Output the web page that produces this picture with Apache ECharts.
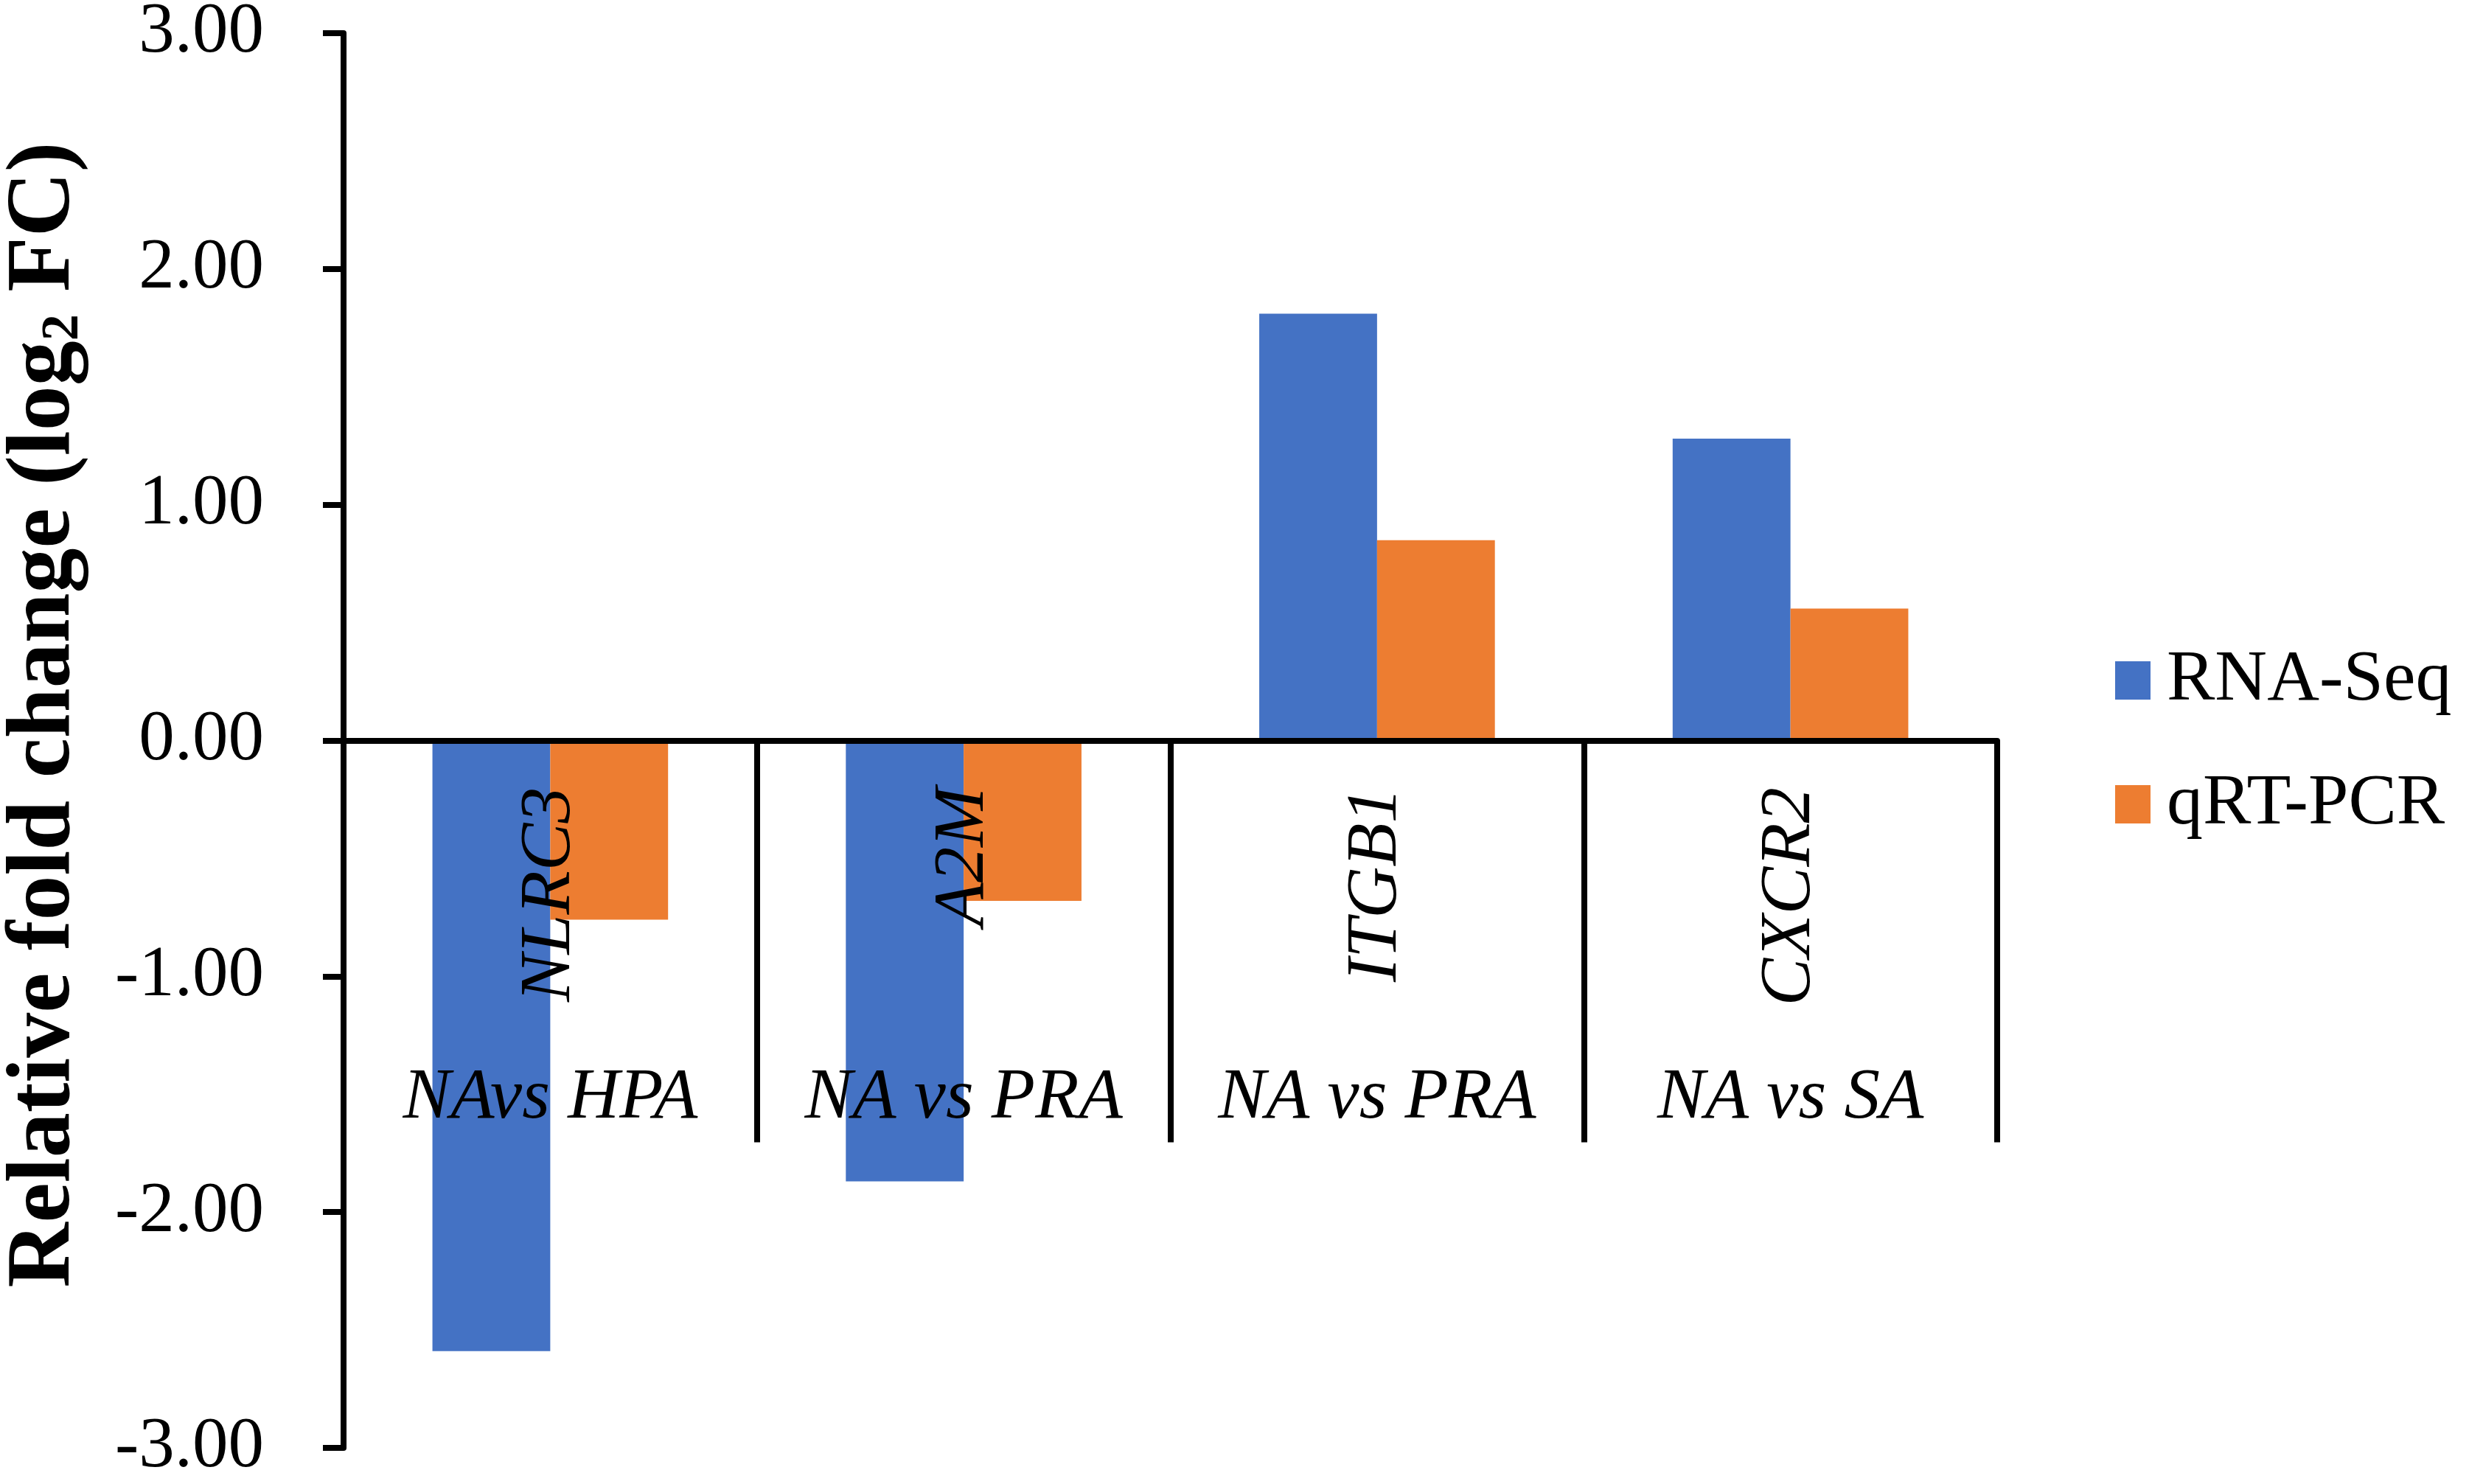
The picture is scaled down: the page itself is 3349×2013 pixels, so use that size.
<!DOCTYPE html>
<html>
<head>
<meta charset="utf-8">
<script src="https://cdn.jsdelivr.net/npm/echarts@6/dist/echarts.min.js"></script>
<style>
html,body{margin:0;padding:0;background:#fff;}
#c{width:3349px;height:2013px;}
</style>
</head>
<body>
<div id="c"></div>
<script>
const genes = ['NLRC3', 'A2M', 'ITGB1', 'CXCR2'];
const comparisons = ['NAvs HPA', 'NA vs PRA', 'NA vs PRA', 'NA vs SA'];
const rnaSeq = [-2.59, -1.87, 1.81, 1.28];
const qrtPcr = [-0.76, -0.68, 0.85, 0.56];
const seriesNames = ['RNA-Seq', 'qRT-PCR'];
const yTicks = { min: -3, max: 3, interval: 1 };

const FONT = 'Liberation Serif, Times New Roman, serif';
const chart = echarts.init(document.getElementById('c'), null, { renderer: 'canvas' });

chart.setOption({
  animation: false,
  backgroundColor: '#ffffff',
  color: ['#4472C4', '#ED7D31'],
  grid: { left: 466, right: 640, top: 45, bottom: 49, outerBoundsMode: 'none' },
  legend: {
    orient: 'vertical',
    left: 2864,
    top: 869,
    icon: 'rect',
    itemWidth: 48,
    itemHeight: 52,
    itemGap: 70,
    textStyle: { fontFamily: FONT, fontSize: 98, lineHeight: 96, color: '#000', padding: [0, 0, 0, 17] },
    data: seriesNames
  },
  xAxis: [
    {
      type: 'category',
      data: genes,
      position: 'bottom',
      z: 5,
      axisLine: { show: true, onZero: true, lineStyle: { color: '#000', width: 8 } },
      axisTick: { show: true, interval: 0, length: 545, lineStyle: { color: '#000', width: 8 } },
      axisLabel: {
        show: true, interval: 0, rotate: 90, margin: -896,
        fontFamily: FONT, fontStyle: 'italic', fontSize: 97, color: '#000'
      },
      splitLine: { show: false }
    },
    {
      type: 'category',
      data: comparisons.map((_, i) => String(i)),
      position: 'bottom',
      z: 5,
      axisLine: { show: false, onZero: false },
      axisTick: { show: false },
      axisLabel: {
        show: true, interval: 0, margin: -522,
        fontFamily: FONT, fontStyle: 'italic', fontSize: 97, color: '#000',
        formatter: (v, i) => comparisons[i]
      },
      splitLine: { show: false }
    }
  ],
  yAxis: {
    type: 'value',
    min: yTicks.min,
    max: yTicks.max,
    interval: yTicks.interval,
    name: '{t|Relative fold change (log}{s|2}{t| FC)}',
    nameLocation: 'middle',
    nameGap: 344,
    nameTextStyle: {
      padding: [0, 0, 0, 70],
      rich: {
        t: { fontFamily: FONT, fontWeight: 'bold', fontSize: 122, color: '#000', lineHeight: 130, verticalAlign: 'bottom' },
        s: { fontFamily: FONT, fontWeight: 'bold', fontSize: 72, color: '#000', lineHeight: 100, verticalAlign: 'bottom' }
      }
    },
    axisLine: { show: true, lineStyle: { color: '#000', width: 8 } },
    axisTick: { show: true, length: 28, lineStyle: { color: '#000', width: 8 } },
    axisLabel: {
      margin: 108, fontFamily: FONT, fontSize: 97, color: '#000',
      formatter: v => v.toFixed(2)
    },
    splitLine: { show: false }
  },
  series: [
    { name: seriesNames[0], type: 'bar', data: rnaSeq, barGap: '0%', barCategoryGap: '43%', xAxisIndex: 0 },
    { name: seriesNames[1], type: 'bar', data: qrtPcr, barGap: '0%', barCategoryGap: '43%', xAxisIndex: 0 }
  ]
});
</script>
</body>
</html>
